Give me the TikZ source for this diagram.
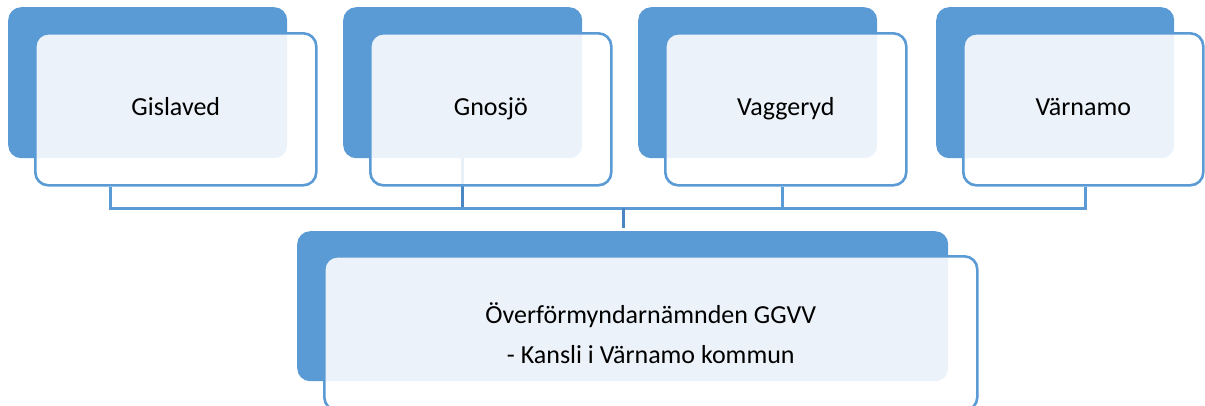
\documentclass[tikz,border=0pt]{standalone}
\usepackage{fontspec}
\setmainfont{Carlito}
\usepackage{tikz}
\usetikzlibrary{positioning, calc}
\definecolor{smartblue}{HTML}{5B9BD5}
\definecolor{linkblue}{HTML}{4A86C2}

\begin{document}
\begin{tikzpicture}[x=1pt,y=-1pt,
    backbox/.style={fill=smartblue,rounded corners=13pt,anchor=north west,inner sep=0pt},
    frontbox/.style={draw=smartblue,line width=2.6pt,fill=white,fill opacity=0.88,text opacity=1,
      rounded corners=13pt,anchor=north west,align=center,inner sep=0pt,
      font={\fontsize{26}{40}\selectfont}},
    citybox/.style={frontbox,minimum height=152pt,text height=18pt,text depth=6pt},
    link/.style={draw=smartblue,line width=3pt},
    linkdark/.style={draw=linkblue,line width=3pt}]
      \useasboundingbox (0,0) rectangle (1205,405);
      \clip (0,0) rectangle (1205,405);
      % bakre rutor
      \node[backbox,minimum width=279pt,minimum height=151pt] (gisB) at (8,7) {};
      \node[backbox,minimum width=239pt,minimum height=151pt] (gnoB) at (343,7) {};
      \node[backbox,minimum width=239pt,minimum height=151pt] (vagB) at (638,7) {};
      \node[backbox,minimum width=238pt,minimum height=151pt] (varB) at (936,7) {};
      \node[backbox,minimum width=651pt,minimum height=150pt] (ovrB) at (297,231) {};
      % linje genom Gnosjö
      \coordinate (bus) at (623,208);
      \draw[linkdark] (gnoB.south) -- (gnoB.south |- bus);
      % främre rutor
      \node[citybox,minimum width=281pt] (gisF) at (34,32) {Gislaved};
      \node[citybox,minimum width=241pt] (gnoF) at (369,32) {Gnosjö};
      \node[citybox,minimum width=241pt] (vagF) at (664,32) {Vaggeryd};
      \node[citybox,minimum width=240pt] (varF) at (962,32) {Värnamo};
      \node[frontbox,minimum width=653pt,minimum height=154pt] (ovrF) at (323,255)
        {Överförmyndarnämnden GGVV\\- Kansli i Värnamo kommun};
      % förbindelser
      \draw[link] ([xshift=-65pt]gisF.south) |- (bus) -| ([xshift=2pt]varF.south);
      \draw[link] ([xshift=-3pt]vagF.south) -- ([xshift=-3pt]vagF.south |- bus);
      \draw[linkdark] (bus) -- ([yshift=3pt]ovrB.north -| bus);
\end{tikzpicture}
\end{document}
